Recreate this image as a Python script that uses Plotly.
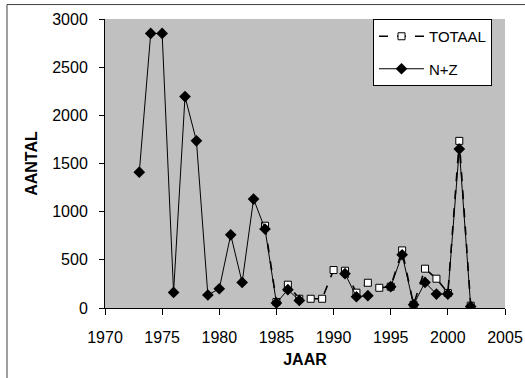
import plotly.graph_objects as go

years = list(range(1973, 2003))
# N+Z series (None = no value)
nz = [1410, 2850, 2850, 162, 2195, 1735, 135, 200, 760, 266, 1131,
      820, 52, 190, 79, None, None, None, 356, 117, 128, None, 221,
      553, 34, 266, 145, 145, 1650, 15]
# TOTAAL series (starts 1984)
totaal = [None] * 11 + [854, 62, 242, 96, 96, 96, 394, 387, 159, 262, 210,
                        221, 598, 34, 408, 304, 156, 1735, 24]

FONT = "Liberation Sans, Arial, sans-serif"

fig = go.Figure()
fig.add_trace(go.Scatter(
    x=years, y=totaal, name="TOTAAL", mode="lines+markers",
    line=dict(color="black", width=1.6, dash="dash"),
    marker=dict(symbol="square", size=7, color="white",
                line=dict(color="black", width=1)),
    legendgroup="a",
))
fig.add_trace(go.Scatter(
    x=years, y=nz, name="N+Z", mode="lines+markers",
    line=dict(color="black", width=1),
    marker=dict(symbol="diamond", size=9, color="black"),
    legendgroup="b",
))

fig.update_layout(
    width=525, height=378,
    margin=dict(l=105, r=20, t=19, b=70, autoexpand=False),
    paper_bgcolor="white",
    plot_bgcolor="#C0C0C0",
    font=dict(family=FONT, size=16, color="black"),
    showlegend=True,
    legend=dict(
        x=0.67, y=1.0, xanchor="left", yanchor="top",
        bgcolor="white", bordercolor="black", borderwidth=1,
        font=dict(family=FONT, size=15, color="black"),
        tracegroupgap=10, traceorder="grouped", itemwidth=45,
    ),
    xaxis=dict(
        range=[1970, 2005], dtick=5, tick0=1970,
        showgrid=False, zeroline=False,
        showline=True, linecolor="black", linewidth=1,
        ticks="outside", ticklen=6, tickcolor="black",
        tickfont=dict(size=16), ticklabelstandoff=9,
        title=dict(text="<b>JAAR</b>", font=dict(size=16), standoff=8),
    ),
    yaxis=dict(
        range=[0, 3000], dtick=500,
        showgrid=False, zeroline=False,
        showline=True, linecolor="black", linewidth=1,
        ticks="outside", ticklen=5, tickcolor="black",
        tickfont=dict(size=16), ticklabelstandoff=8,
        title=dict(text="<b>AANTAL</b>", font=dict(size=16), standoff=10),
    ),
    shapes=[
        dict(type="line", xref="paper", yref="paper",
             x0=-0.245, x1=1.2, y0=1.05, y1=1.05,
             line=dict(color="#404040", width=1)),
        dict(type="line", xref="paper", yref="paper",
             x0=-0.245, x1=-0.245, y0=-0.5, y1=1.05,
             line=dict(color="#404040", width=1)),
    ],
)

fig.write_html(
    "out.html",
    config={"displayModeBar": False},
    post_script="document.body.style.margin='0px';document.body.style.overflow='hidden';",
)
